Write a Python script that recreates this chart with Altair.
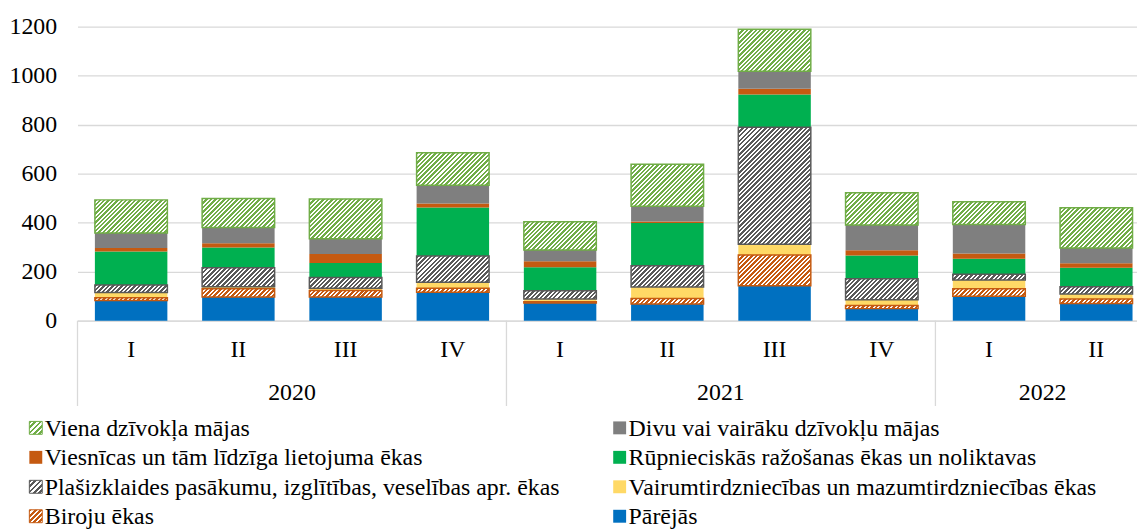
import altair as alt
import pandas as pd

# ---------------- data ----------------
years = [2020, 2020, 2020, 2020, 2021, 2021, 2021, 2021, 2022, 2022]
quarters = ["I", "II", "III", "IV", "I", "II", "III", "IV", "I", "II"]

# series, bottom to top of each stack
parejas = [82, 96, 96, 116, 72, 68, 142, 49, 100, 70]
biroju = [11, 34, 27, 16, 5, 22, 126, 13, 30, 18]
vairum = [22, 8, 9, 25, 11, 47, 44, 23, 36, 21]
plasizklaides = [30, 78, 44, 107, 34, 87, 478, 86, 23, 29]
rupnieciskas = [137, 83, 59, 198, 96, 175, 133, 95, 64, 78]
viesnicas = [15, 17, 37, 16, 24, 6, 24, 21, 21, 18]
divu = [61, 64, 62, 75, 46, 62, 71, 103, 118, 63]
viena = [135, 119, 163, 132, 116, 171, 172, 132, 93, 164]

y_ticks = [0, 200, 400, 600, 800, 1000, 1200]

series = [
    ("Pārējās", parejas, "#0070C0", False),
    ("Biroju ēkas", biroju, "#C55A11", True),
    ("Vairumtirdzniecības un mazumtirdzniecības ēkas", vairum, "#FFD966", False),
    ("Plašizklaides pasākumu, izglītības, veselības apr. ēkas", plasizklaides, "#595959", True),
    ("Rūpnieciskās ražošanas ēkas un noliktavas", rupnieciskas, "#00B050", False),
    ("Viesnīcas un tām līdzīga lietojuma ēkas", viesnicas, "#C55A11", False),
    ("Divu vai vairāku dzīvokļu mājas", divu, "#7F7F7F", False),
    ("Viena dzīvokļa mājas", viena, "#70AD47", True),
]

legend_order = [
    ("Viena dzīvokļa mājas", 0, 0),
    ("Divu vai vairāku dzīvokļu mājas", 1, 0),
    ("Viesnīcas un tām līdzīga lietojuma ēkas", 0, 1),
    ("Rūpnieciskās ražošanas ēkas un noliktavas", 1, 1),
    ("Plašizklaides pasākumu, izglītības, veselības apr. ēkas", 0, 2),
    ("Vairumtirdzniecības un mazumtirdzniecības ēkas", 1, 2),
    ("Biroju ēkas", 0, 3),
    ("Pārējās", 1, 3),
]

# ---------------- layout / style ----------------
PLOT_H = 296
BAND = 108
BAR_W = 73
N_CAT = len(quarters)
VIEW_W = 1067
FONT = "Liberation Serif, Times New Roman, Times, serif"
GRID = "#D9D9D9"

keys = [f"{y}-{q}" for y, q in zip(years, quarters)]

rows = []
for i, k in enumerate(keys):
    base = 0
    for name, vals, color, hatched in series:
        v = vals[i]
        rows.append(dict(key=k, series=name, y0=base, y1=base + v, v=v, idx=i))
        base += v
df = pd.DataFrame(rows)


def hatch(color, w, h, period=4.5, frac=0.55):
    n = max(1, round((w + h) / period))
    a = (w + h) * w / (w * w + h * h)
    b = (w + h) * h / (w * w + h * h)
    stops = []
    for i in range(n):
        s = i / n
        m = (i + frac) / n
        e = (i + 1) / n
        stops += [
            alt.GradientStop(offset=s, color=color),
            alt.GradientStop(offset=m, color=color),
            alt.GradientStop(offset=m, color="#FFFFFF"),
            alt.GradientStop(offset=min(e, 1.0), color="#FFFFFF"),
        ]
    return alt.LinearGradient(gradient="linear", stops=stops, x1=0, y1=0, x2=a, y2=b)


x_scale = alt.Scale(domain=keys, range=[0, BAND * N_CAT], paddingInner=0, paddingOuter=0)
y_scale = alt.Scale(domain=[0, 1200])

x_axis = alt.Axis(
    title=None,
    labelExpr="split(datum.value, '-')[1]",
    labelAngle=0,
    labelFont=FONT,
    labelFontSize=24,
    labelColor="#000000",
    labelPadding=17,
    ticks=False,
    domainColor=GRID,
    domainWidth=1.3,
    grid=False,
)
y_axis = alt.Axis(
    title=None,
    values=y_ticks,
    format="d",
    labelFont=FONT,
    labelFontSize=24,
    labelColor="#000000",
    labelPadding=21,
    ticks=False,
    domain=False,
    grid=True,
    gridColor=GRID,
    gridWidth=1.3,
)

X = alt.X("key:N", scale=x_scale, axis=x_axis, sort=keys)
Y = alt.Y("y1:Q", scale=y_scale, axis=y_axis)
Y2 = alt.Y2("y0:Q")

layers = []

solid_names = [s[0] for s in series if not s[3]]
solid_colors = [s[2] for s in series if not s[3]]
solid = (
    alt.Chart(df[df["series"].isin(solid_names)])
    .mark_bar(size=BAR_W)
    .encode(
        x=X,
        y=Y,
        y2=Y2,
        fill=alt.Fill("series:N", scale=alt.Scale(domain=solid_names, range=solid_colors), legend=None),
    )
)
layers.append(solid)

for name, vals, color, hatched in series:
    if not hatched:
        continue
    for i, k in enumerate(keys):
        h = vals[i] * PLOT_H / 1200.0
        sub = df[(df["series"] == name) & (df["key"] == k)]
        layers.append(
            alt.Chart(sub)
            .mark_bar(size=BAR_W, fill=hatch(color, BAR_W, h), stroke=color, strokeWidth=1.5)
            .encode(x=X, y=Y, y2=Y2)
        )

# separators between years (Excel-style multi-level axis)
first_keys = []
year_anchor = []
uniq_years = []
for y in years:
    if y not in uniq_years:
        uniq_years.append(y)
for y in uniq_years:
    ks = [k for k, yy in zip(keys, years) if yy == y]
    first_keys.append(ks[0])
    year_anchor.append(dict(year=str(y), key=ks[len(ks) // 2]))

sep = (
    alt.Chart(pd.DataFrame({"key": first_keys}))
    .mark_rule(color=GRID, strokeWidth=1.3)
    .encode(
        x=alt.X("key:N", scale=x_scale, axis=x_axis, sort=keys, bandPosition=0),
        y=alt.value(PLOT_H),
        y2=alt.value(PLOT_H + 86),
    )
)
layers.append(sep)

year_txt = (
    alt.Chart(pd.DataFrame(year_anchor))
    .mark_text(font=FONT, fontSize=24, color="#000000", baseline="middle", align="center")
    .encode(
        x=alt.X("key:N", scale=x_scale, axis=x_axis, sort=keys, bandPosition=0),
        y=alt.value(PLOT_H + 73),
        text="year:N",
    )
)
layers.append(year_txt)

bars_group = alt.layer(*layers)

# ---------------- custom legend ----------------
info = {s[0]: (s[2], s[3]) for s in series}
leg_rows = [dict(name=n, col=c, row=r) for n, c, r in legend_order]
leg_df = pd.DataFrame(leg_rows)

LX = alt.X("col:Q", scale=alt.Scale(domain=[0, 1], range=[-42, 546]), axis=None)
LY = alt.Y("row:Q", scale=alt.Scale(domain=[0, 3], range=[404, 493]), axis=None)

leg_layers = []
for n, c, r in legend_order:
    color, hatched = info[n]
    sub = leg_df[leg_df["name"] == n]
    if hatched:
        mk = alt.Chart(sub).mark_square(
            size=169, fill=hatch(color, 13, 13, period=5.2), stroke=color, strokeWidth=1, opacity=1
        )
    else:
        mk = alt.Chart(sub).mark_square(size=169, fill=color, opacity=1, strokeWidth=0)
    leg_layers.append(mk.encode(x=LX, y=LY))

leg_text = (
    alt.Chart(leg_df)
    .mark_text(align="left", baseline="middle", dx=9, dy=1, font=FONT, fontSize=24, color="#000000")
    .encode(x=LX, y=LY, text="name:N")
)
leg_layers.append(leg_text)
legend_group = alt.layer(*leg_layers)

chart = (
    alt.layer(bars_group, legend_group)
    .resolve_scale(x="independent", y="independent")
    .properties(
        width=VIEW_W,
        height=PLOT_H,
        autosize=alt.AutoSizeParams(type="none"),
        padding={"left": 70, "top": 17, "right": 0, "bottom": 208},
        background="#FFFFFF",
    )
    .configure_view(stroke=None)
)

chart.save("out.html", embed_options={"renderer": "svg", "actions": False})
